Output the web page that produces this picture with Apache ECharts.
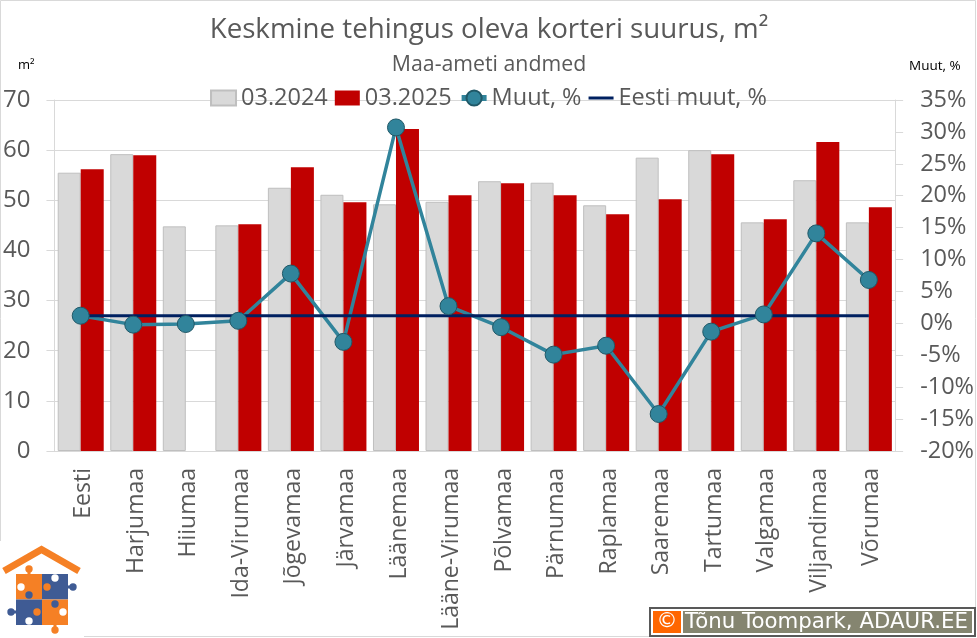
<!DOCTYPE html>
<html>
<head>
<meta charset="utf-8">
<title>Keskmine tehingus oleva korteri suurus</title>
<script src="https://cdn.jsdelivr.net/npm/echarts@6/dist/echarts.min.js"></script>
<style>
html,body{margin:0;padding:0;background:#fff}
#chart{width:977px;height:638px}
</style>
</head>
<body>
<div id="chart"></div>
<script>
var categories = ['Eesti','Harjumaa','Hiiumaa','Ida-Virumaa','Jõgevamaa','Järvamaa','Läänemaa','Lääne-Virumaa','Põlvamaa','Pärnumaa','Raplamaa','Saaremaa','Tartumaa','Valgamaa','Viljandimaa','Võrumaa'];
var size2024 = [55.5,59.2,44.8,45,52.5,51.1,49.2,49.7,53.8,53.5,49,58.5,60,45.6,54,45.6];
var size2025 = [56.2,59,null,45.2,56.6,49.6,64.2,51,53.4,51,47.2,50.2,59.2,46.2,61.6,48.6];
var muut = [1.2,-0.2,-0.1,0.4,7.8,-2.9,30.7,2.7,-0.6,-4.9,-3.5,-14.2,-1.3,1.4,14.1,6.8];
var eestiMuut = [1.2,1.2,1.2,1.2,1.2,1.2,1.2,1.2,1.2,1.2,1.2,1.2,1.2,1.2,1.2,1.2];

var font = '"Open Sans"';
var gray = '#595959';
var lineCol = '#d9d9d9';
// legendi ristkülik: 25x15, kõrgus 19 on joonte markeri jaoks
var barIcon = 'path://M0 0M0 19M0 2H25V17H0Z';
var lineIcon = 'path://M0 0M0 19M0 8H25V11H0Z';

// logo osad
var orange = '#f58025', blue = '#3f5b94';
var logo = [
	{type:'rect',shape:{x:0,y:541,width:84,height:97},style:{fill:'#fff'}},
	{type:'polyline',shape:{points:[[4,571],[41.5,549.5],[79,571]]},style:{stroke:orange,lineWidth:7,fill:null}},
	{type:'rect',shape:{x:16,y:574,width:26,height:25.5},style:{fill:orange}},
	{type:'rect',shape:{x:42,y:574,width:26,height:25.5},style:{fill:blue}},
	{type:'rect',shape:{x:16,y:599.5,width:26,height:25.5},style:{fill:blue}},
	{type:'rect',shape:{x:42,y:599.5,width:26,height:25.5},style:{fill:orange}},
	{type:'rect',shape:{x:27.5,y:570,width:3,height:5},style:{fill:orange}},
	{type:'rect',shape:{x:67,y:585.5,width:5,height:3},style:{fill:blue}},
	{type:'rect',shape:{x:12,y:610.5,width:5,height:3},style:{fill:blue}},
	{type:'rect',shape:{x:53.5,y:624,width:3,height:5},style:{fill:orange}}
];
[[29,569,orange],[21,587,'#fff'],[47,587,orange],[73,587,blue],[55,578,'#fff'],[29,595,blue],
 [55,604,blue],[11,612,blue],[37,612,orange],[63,612,'#fff'],[29,621,'#fff'],[55,630,orange]].forEach(function(k){
	logo.push({type:'circle',shape:{cx:k[0],cy:k[1],r:3.7},style:{fill:k[2]}});
});

var myChart = echarts.init(document.getElementById('chart'));
myChart.setOption({
	animation:false,
	backgroundColor:'#fff',
	title:[
		{text:'Keskmine tehingus oleva korteri suurus, m²',left:484,top:11,textAlign:'center',textStyle:{fontFamily:font,fontSize:27.7,fontWeight:'normal',color:gray}},
		{text:'Maa-ameti andmed',left:484,top:49,textAlign:'center',textStyle:{fontFamily:font,fontSize:21.3,fontWeight:'normal',color:gray}},
		{text:'m²',left:13,top:54,textStyle:{fontFamily:font,fontSize:13,fontWeight:'normal',color:'#000'}},
		{text:'Muut, %',left:904,top:54,textStyle:{fontFamily:font,fontSize:13.5,fontWeight:'normal',color:'#000'}}
	],
	legend:{
		top:81,left:'center',itemWidth:25,itemHeight:19,itemGap:7,
		textStyle:{fontFamily:font,fontSize:23.5,color:gray},
		data:[
			{name:'03.2024',icon:barIcon},
			{name:'03.2025',icon:barIcon},
			{name:'Muut, %',lineStyle:{width:6}},
			{name:'Eesti muut, %',icon:lineIcon}
		]
	},
	grid:{left:53.5,right:81.5,top:100,bottom:187},
	xAxis:{
		type:'category',data:categories,
		axisLine:{lineStyle:{color:lineCol,width:1}},
		axisTick:{show:false},
		axisLabel:{rotate:90,interval:0,margin:17,verticalAlign:'top',lineHeight:6,fontFamily:font,fontSize:23,color:gray}
	},
	yAxis:[
		{type:'value',min:0,max:70,interval:10,
			axisLine:{show:true,lineStyle:{color:lineCol}},
			axisTick:{show:true,length:8,lineStyle:{color:lineCol}},
			splitLine:{lineStyle:{color:lineCol}},
			axisLabel:{margin:24,fontFamily:font,fontSize:24,color:gray}},
		{type:'value',min:-20,max:35,interval:5,
			axisLine:{show:true,lineStyle:{color:lineCol}},
			axisTick:{show:true,length:8,lineStyle:{color:lineCol}},
			splitLine:{show:false},
			axisLabel:{margin:25,formatter:'{value}%',fontFamily:font,fontSize:23.5,color:gray}}
	],
	series:[
		{name:'03.2024',type:'bar',data:size2024,barWidth:23,barGap:0,itemStyle:{color:'#d9d9d9',borderColor:'#bfbfbf',borderWidth:1}},
		{name:'03.2025',type:'bar',data:size2025,barWidth:23,itemStyle:{color:'#c00000'}},
		{name:'Muut, %',type:'line',yAxisIndex:1,data:muut,symbol:'circle',symbolSize:17,
			lineStyle:{color:'#31849b',width:3.5},itemStyle:{color:'#31849b',borderColor:'#205867',borderWidth:1}},
		{name:'Eesti muut, %',type:'line',yAxisIndex:1,data:eestiMuut,symbol:'none',z:3,
			lineStyle:{color:'#002060',width:3},itemStyle:{color:'#002060'}}
	],
	graphic:[
		{type:'rect',silent:true,shape:{x:0.5,y:0.5,width:975,height:636},style:{fill:null,stroke:'#d9d9d9',lineWidth:1},z:-1},
		{type:'group',silent:true,children:logo,z:10},
		{type:'rect',silent:true,shape:{x:650,y:608,width:325,height:28},style:{fill:'#fff',stroke:'#595959',lineWidth:2},z:10},
		{type:'rect',silent:true,shape:{x:653,y:611,width:28,height:22},style:{fill:'#ff6600'},z:11},
		{type:'rect',silent:true,shape:{x:683,y:611,width:289,height:22},style:{fill:'#858570'},z:11},
		{type:'text',silent:true,x:667,y:622,style:{text:'©',fill:'#fff',font:'21px "DejaVu Sans"',textAlign:'center',textVerticalAlign:'middle'},z:12},
		{type:'text',silent:true,x:685,y:622,style:{text:'Tõnu Toompark, ADAUR.EE',fill:'#fff',font:'21.3px "DejaVu Sans"',textVerticalAlign:'middle'},z:12}
	]
});
</script>
</body>
</html>
